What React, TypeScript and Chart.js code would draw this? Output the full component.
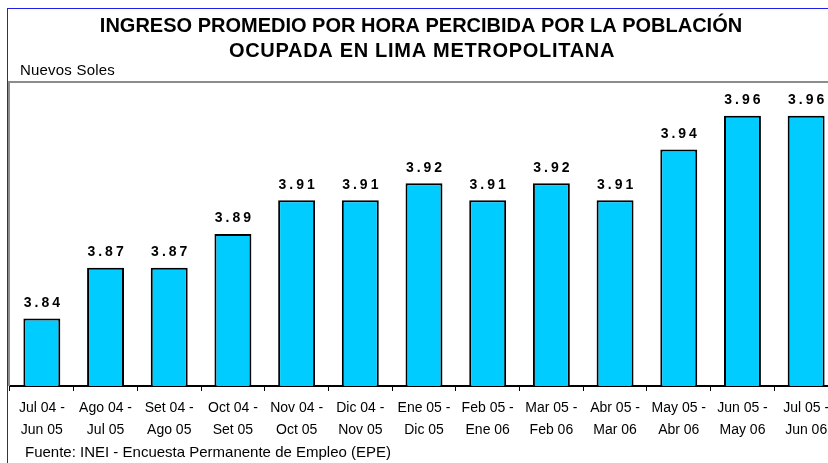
import React, { useEffect, useRef } from "react";
import { Chart, registerables } from "chart.js";

Chart.register(...registerables);

const periodStart = ["Jul 04 -", "Ago 04 -", "Set 04 -", "Oct 04 -", "Nov 04 -", "Dic 04 -", "Ene 05 -", "Feb 05 -", "Mar 05 -", "Abr 05 -", "May 05 -", "Jun 05 -", "Jul 05 -"];
const periodEnd = ["Jun 05", "Jul 05", "Ago 05", "Set 05", "Oct 05", "Nov 05", "Dic 05", "Ene 06", "Feb 06", "Mar 06", "Abr 06", "May 06", "Jun 06"];
const values = [3.84, 3.87, 3.87, 3.89, 3.91, 3.91, 3.92, 3.91, 3.92, 3.91, 3.94, 3.96, 3.96];
const titleLines = ["INGRESO PROMEDIO POR HORA PERCIBIDA POR LA POBLACIÓN", "OCUPADA EN LIMA METROPOLITANA"];
const unitLabel = "Nuevos Soles";
const sourceText = "Fuente: INEI - Encuesta Permanente de Empleo (EPE)";
const yMin = 3.8;
const yMax = 3.98;

const FONT = "'Liberation Sans', Arial, Helvetica, sans-serif";

const decorPlugin = {
  id: "decor",
  beforeDatasetsDraw(chart: any) {
    const { ctx, chartArea } = chart;
    ctx.save();
    ctx.strokeStyle = "#8c8c8c";
    ctx.lineWidth = 2;
    ctx.beginPath();
    ctx.moveTo(chartArea.left - 1, chartArea.bottom);
    ctx.lineTo(chartArea.left - 1, chartArea.top);
    ctx.lineTo(chartArea.right, chartArea.top);
    ctx.stroke();
    ctx.restore();
  },
  afterDatasetsDraw(chart: any) {
    const { ctx } = chart;
    const meta = chart.getDatasetMeta(0);
    const data = chart.data.datasets[0].data as number[];
    ctx.save();
    ctx.fillStyle = "#000";
    ctx.font = `bold 14px ${FONT}`;
    ctx.textAlign = "center";
    ctx.textBaseline = "middle";
    (ctx as any).letterSpacing = "3px";
    meta.data.forEach((bar: any, i: number) => {
      ctx.fillText(data[i].toFixed(2), bar.x + 1.5, bar.y - 15.5);
    });

    // title
    ctx.font = `bold 20px ${FONT}`;
    ctx.textAlign = "center";
    (ctx as any).letterSpacing = "0px";
    ctx.fillText(titleLines[0], 421, 26);
    (ctx as any).letterSpacing = "0.7px";
    ctx.fillText(titleLines[1], 422, 51);

    // unit label
    ctx.font = `15px ${FONT}`;
    ctx.textAlign = "left";
    (ctx as any).letterSpacing = "0.2px";
    ctx.fillText(unitLabel, 20, 71);

    // source
    ctx.font = `15px ${FONT}`;
    (ctx as any).letterSpacing = "0px";
    ctx.fillText(sourceText, 25, 453);
    ctx.restore();
  },
};

export default function App() {
  const canvasRef = useRef<HTMLCanvasElement | null>(null);

  useEffect(() => {
    if (!canvasRef.current) return;
    const chart = new Chart(canvasRef.current, {
      type: "bar",
      data: {
        labels: periodStart.map((s, i) => [s, periodEnd[i]]),
        datasets: [
          {
            data: values,
            backgroundColor: "#00ccff",
            borderColor: "#000000",
            borderWidth: 2,
            categoryPercentage: 1,
            barPercentage: 0.58,
          },
        ],
      },
      options: {
        animation: false,
        responsive: false,
        devicePixelRatio: 1,
        layout: { padding: { left: 10, right: 12, top: 82, bottom: 0 } },
        plugins: {
          legend: { display: false },
          title: { display: false },
          tooltip: { enabled: false },
        },
        scales: {
          y: {
            display: false,
            min: yMin,
            max: yMax,
          },
          x: {
            afterFit: (scale: any) => {
              scale.height = 77;
            },
            grid: {
              display: true,
              drawOnChartArea: false,
              drawTicks: true,
              tickLength: 5,
              color: "#000",
              lineWidth: 1,
            },
            border: { display: true, color: "#000", width: 2 },
            ticks: {
              color: "#000",
              font: { family: FONT, size: 14, lineHeight: 1.6 },
              padding: 6,
              maxRotation: 0,
              minRotation: 0,
              autoSkip: false,
            },
          },
        },
      },
      plugins: [decorPlugin],
    });
    return () => chart.destroy();
  }, []);

  return (
    <div
      style={{
        position: "fixed",
        left: 0,
        top: 0,
        width: 828,
        height: 463,
        overflow: "hidden",
        background: "#fff",
      }}
    >
      <canvas
        ref={canvasRef}
        width={850}
        height={463}
        style={{ position: "absolute", left: 0, top: 0, width: 850, height: 463 }}
      />
      <div
        style={{
          position: "absolute",
          left: 7,
          top: 8,
          width: 900,
          height: 500,
          borderLeft: "1.5px solid #1f1fe8",
          borderTop: "1.5px solid #1f1fe8",
          pointerEvents: "none",
        }}
      />
    </div>
  );
}
